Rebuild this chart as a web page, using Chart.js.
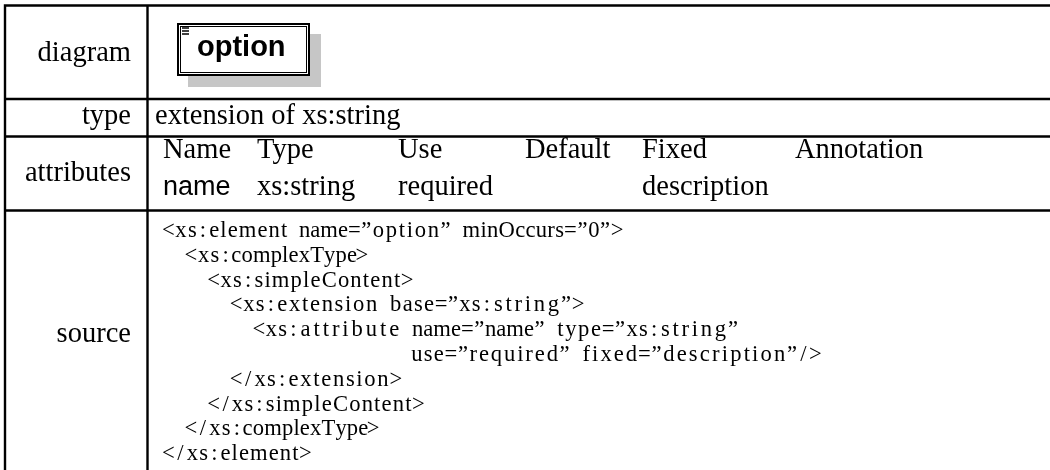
<!DOCTYPE html>
<html><head><meta charset="utf-8">
<script src="https://cdn.jsdelivr.net/npm/chart.js@4.4.1/dist/chart.umd.min.js"></script>
<style>html,body{margin:0;padding:0;background:#fff}#wrap{width:1050px;height:470px;position:relative}</style>
</head><body><div id="wrap"><canvas id="c"></canvas></div>
<script>
// ---- data ----
const rowLabels = ['diagram', 'type', 'attributes', 'source'];
const elementName = 'option';
const typeText = 'extension of xs:string';
const attrHeaders = ['Name', 'Type', 'Use', 'Default', 'Fixed', 'Annotation'];
const attrValues = ['name', 'xs:string', 'required', '', 'description', ''];
const sourceLines = [
  '<xs:element name=”option” minOccurs=”0”>',
  '  <xs:complexType>',
  '    <xs:simpleContent>',
  '      <xs:extension base=”xs:string”>',
  '        <xs:attribute name=”name” type=”xs:string”',
  '                      use=”required” fixed=”description”/>',
  '      </xs:extension>',
  '    </xs:simpleContent>',
  '  </xs:complexType>',
  '</xs:element>'
];

// ---- layout (page units, mapped through the chart's scales) ----
const L = {
  left: 5, divider: 147.5, right: 1050, bottom: 470,
  rowLines: [5.5, 99, 136.5, 210.5],
  lineW: 2.4,
  labelRight: 131, labelBase: [61, 124, 181, 342],
  serif: '28.5px "Liberation Serif", "Times New Roman", serif',
  sans: '27px "Liberation Sans", Arial, sans-serif',
  typeX: 155, typeBase: 124,
  attrX: [163, 257, 398, 525, 642, 795], attrHeadBase: 158, attrValBase: 195,
  codeX: 162, codeBase: 237, codeStep: 24.8, codeSize: 22.6,
  box: {x: 177, y: 23, w: 133, h: 53, sh: 11},
  optX: 197, optBase: 56, optFont: 'bold 29px "Liberation Sans", Arial, sans-serif'
};

// listings-style "flexible columns": each unit takes max(natural width, n * basewidth)
function drawListing(ctx, line, x0, y, size) {
  ctx.font = size + 'px "Liberation Serif", "Times New Roman", serif';
  const base = 0.5 * size;
  let x = x0;
  const units = line.match(/[A-Za-z0-9]+| |[^A-Za-z0-9 ]/g) || [];
  for (const u of units) {
    if (u === ' ') { x += base; continue; }
    const chars = [...u];
    const nat = ctx.measureText(u).width;
    const target = Math.max(nat, chars.length * base);
    const extra = (target - nat) / chars.length;
    let cx = x + extra / 2;
    for (const ch of chars) { ctx.fillText(ch, cx, y); cx += ctx.measureText(ch).width + extra; }
    x += target;
  }
}

const tablePlugin = {
  id: 'xsdTable',
  afterDraw(chart) {
    const ctx = chart.ctx, xs = chart.scales.x, ys = chart.scales.y;
    const X = v => xs.getPixelForValue(v), Y = v => ys.getPixelForValue(v);
    ctx.save();
    ctx.fillStyle = '#000'; ctx.strokeStyle = '#000'; ctx.lineWidth = L.lineW;
    ctx.textBaseline = 'alphabetic';
    // grid
    ctx.beginPath();
    L.rowLines.forEach(r => { ctx.moveTo(X(L.left) - L.lineW / 2, Y(r)); ctx.lineTo(X(L.right), Y(r)); });
    [L.left, L.divider].forEach(c => { ctx.moveTo(X(c), Y(L.rowLines[0])); ctx.lineTo(X(c), Y(L.bottom)); });
    ctx.stroke();
    // row labels
    ctx.font = L.serif; ctx.textAlign = 'right';
    rowLabels.forEach((t, i) => ctx.fillText(t, X(L.labelRight), Y(L.labelBase[i])));
    ctx.textAlign = 'left';
    // diagram box
    const b = L.box;
    ctx.fillStyle = '#c6c6c6';
    ctx.fillRect(X(b.x + b.sh), Y(b.y + b.sh), b.w, b.h);
    ctx.fillStyle = '#fff';
    ctx.fillRect(X(b.x), Y(b.y), b.w, b.h);
    ctx.lineWidth = 2; ctx.strokeRect(X(b.x) + 1, Y(b.y) + 1, b.w - 2, b.h - 2);
    ctx.lineWidth = 1; ctx.strokeRect(X(b.x) + 3.5, Y(b.y) + 3.5, b.w - 7, b.h - 7);
    ctx.lineWidth = 1.5;
    ctx.beginPath();
    [0, 3, 6].forEach(d => { ctx.moveTo(X(b.x + 5), Y(b.y + 5 + d)); ctx.lineTo(X(b.x + 12), Y(b.y + 5 + d)); });
    ctx.stroke();
    ctx.fillStyle = '#000';
    ctx.font = L.optFont;
    ctx.fillText(elementName, X(L.optX), Y(L.optBase));
    // type
    ctx.font = L.serif;
    ctx.fillText(typeText, X(L.typeX), Y(L.typeBase));
    // attributes
    attrHeaders.forEach((h, i) => ctx.fillText(h, X(L.attrX[i]), Y(L.attrHeadBase)));
    attrValues.forEach((v, i) => {
      if (!v) return;
      ctx.font = i === 0 ? L.sans : L.serif;
      ctx.fillText(v, X(L.attrX[i]), Y(L.attrValBase));
    });
    // source
    sourceLines.forEach((ln, i) => drawListing(ctx, ln, X(L.codeX), Y(L.codeBase + i * L.codeStep), L.codeSize));
    ctx.restore();
  }
};

new Chart(document.getElementById('c'), {
  type: 'scatter',
  data: { datasets: [] },
  options: {
    responsive: true, maintainAspectRatio: false, animation: false,
    layout: { padding: 0 },
    plugins: { legend: { display: false }, tooltip: { enabled: false } },
    scales: {
      x: { type: 'linear', min: 0, max: 1050, display: false },
      y: { type: 'linear', min: 0, max: 470, reverse: true, display: false }
    }
  },
  plugins: [tablePlugin]
});
</script></body></html>
